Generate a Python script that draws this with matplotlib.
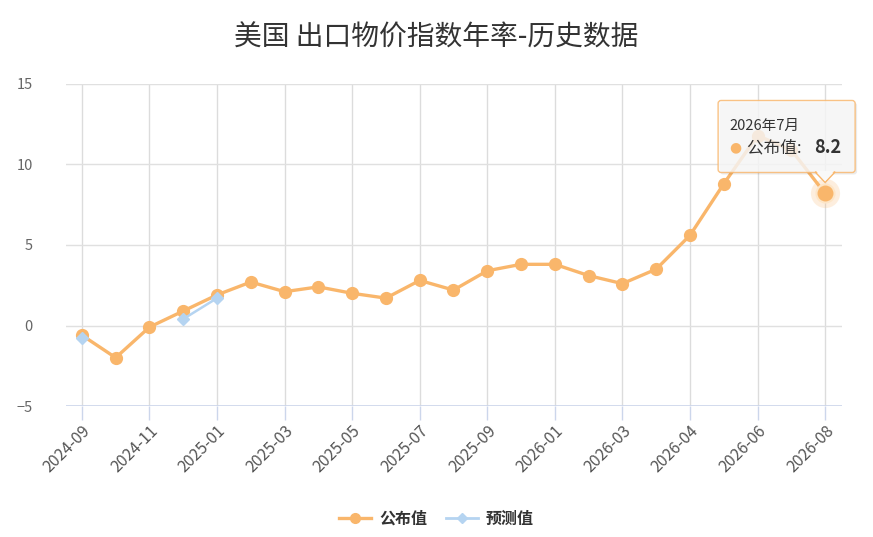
import numpy as np
import matplotlib.pyplot as plt
from matplotlib.lines import Line2D
from matplotlib.patches import FancyBboxPatch, Polygon

plt.rcParams['font.family'] = ['Noto Sans CJK SC', 'DejaVu Sans']

# categories (only every other one is labelled on the axis)
dates = ['2024-09', '2024-10', '2024-11', '2024-12', '2025-01', '2025-02',
         '2025-03', '2025-04', '2025-05', '2025-06', '2025-07', '2025-08',
         '2025-09', '2025-12', '2026-01', '2026-02', '2026-03', '2026-03',
         '2026-04', '2026-05', '2026-06', '2026-07', '2026-08']
actual = [-0.6, -2.0, -0.1, 0.9, 1.9, 2.7, 2.1, 2.4, 2.0, 1.7, 2.8, 2.2,
          3.4, 3.8, 3.8, 3.1, 2.6, 3.5, 5.6, 8.8, 11.8, 10.9, 8.2]
forecast = [-0.8, None, None, 0.4, 1.7] + [None] * 18
y_ticks = [-5, 0, 5, 10, 15]
tip_title = '2026年7月'

orange = '#f9b66b'
blue = '#b5d4f1'

x = np.arange(len(dates))
fc = np.array([np.nan if v is None else v for v in forecast])

fig = plt.figure(figsize=(8.73, 5.37), dpi=100)
ax = fig.add_axes([66/873, 1-406/537, (842-66)/873, (406-84)/537])

ax.plot(x, actual, '-o', color=orange, lw=2.4, ms=8.5, zorder=4)
ax.plot(x, fc, '-D', color=blue, lw=1.8, ms=6, zorder=5)

# hovered point
ax.plot(x[-1], actual[-1], 'o', color=orange, ms=21, alpha=0.22, mec='none', zorder=6)
ax.plot(x[-1], actual[-1], 'o', color=orange, ms=13, mec='#fde6c8', mew=1.5, zorder=7)

ax.set_xlim(-0.47, 22.5)
ax.set_ylim(-5, 15)
ax.set_yticks(y_ticks)
ax.set_yticklabels(['\u22125' if v < 0 else str(v) for v in y_ticks])
ax.set_xticks(x[::2])
ax.set_xticklabels(dates[::2], rotation=45, ha='right', rotation_mode='anchor')

ax.tick_params(axis='y', length=0, pad=24, labelsize=10.5, labelcolor='#666666')
ax.tick_params(axis='x', length=10, width=1, color='#ccd6eb', pad=2,
               labelsize=11.5, labelcolor='#555555')
for s in ax.spines.values():
    s.set_visible(False)
ax.grid(axis='y', color='#e0e0e0', lw=1)
ax.grid(axis='x', color='#dcdcdc', lw=1)
ax.axhline(-5, color='#ccd6eb', lw=1.2, zorder=1)
ax.set_axisbelow(True)

fig.text(0.5, 1-38/537, '美国 出口物价指数年率-历史数据', ha='center', va='center',
         fontsize=20, color='#333333')

# tooltip, placed relative to the last point in pixel space
px, py = ax.transData.transform((x[-1], actual[-1]))
bx0, bx1 = px - 107, px + 30
by0, by1 = py + 21, py + 93
shadow = FancyBboxPatch((bx0 + 2, by0 - 2), bx1 - bx0, by1 - by0,
                        boxstyle='round,pad=0,rounding_size=3', transform=None,
                        fc='#000000', ec='none', alpha=0.08, zorder=9)
box = FancyBboxPatch((bx0, by0), bx1 - bx0, by1 - by0,
                     boxstyle='round,pad=0,rounding_size=3', transform=None,
                     fc='#f9f9f9', ec=orange, lw=1, alpha=0.82, zorder=10)
fig.patches.extend([shadow, box])
arrow = Polygon([(px - 10, by0 + 0.5), (px, py + 11), (px + 10, by0 + 0.5)], closed=True,
                transform=None, fc='#f9f9f9', ec=orange, lw=1, zorder=11)
fig.patches.append(arrow)
cover = Polygon([(px - 9, by0 + 1.5), (px, py + 12.5), (px + 9, by0 + 1.5)], closed=True,
                transform=None, fc='#f9f9f9', ec='none', zorder=12)
fig.patches.append(cover)

W, H = 873, 537
fig.text((bx0 + 11) / W, (by1 - 25) / H, tip_title, fontsize=10.5, color='#333333',
         va='center', zorder=13)
fig.text((bx0 + 11) / W, (by1 - 47) / H, '\u25cf', fontsize=10, color=orange,
         va='center', ha='left', family='DejaVu Sans', zorder=13)
fig.text((bx0 + 29) / W, (by1 - 47) / H, '公布值: ', fontsize=12, color='#333333',
         va='center', zorder=13)
fig.text((bx0 + 96) / W, (by1 - 47) / H, f'{actual[-1]}', fontsize=13, color='#333333',
         va='center', weight='bold', zorder=13)

handles = [Line2D([], [], color=orange, lw=2.4, marker='o', ms=7),
           Line2D([], [], color=blue, lw=2, marker='D', ms=5)]
fig.legend(handles, ['公布值', '预测值'], loc='center', bbox_to_anchor=(0.5, 1-519/537),
           ncol=2, frameon=False, prop={'size': 11.5, 'weight': 'bold'},
           labelcolor='#333333', handlelength=2, columnspacing=1.2, handletextpad=0.5)

fig.savefig('out.png', dpi=100)
